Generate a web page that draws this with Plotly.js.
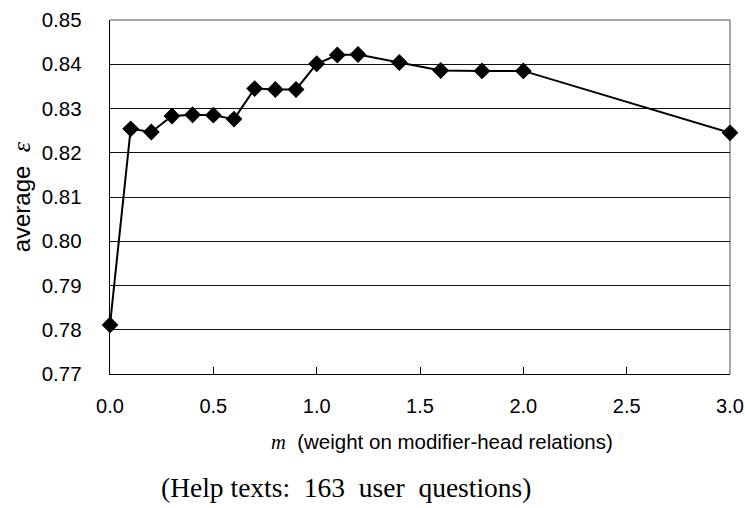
<!DOCTYPE html>
<html>
<head>
<meta charset="utf-8">
<script src="https://cdn.plot.ly/plotly-3.0.1.min.js"></script>
<style>html,body{margin:0;padding:0;background:#fff;}#chart{width:745px;height:508px;}</style>
</head>
<body>
<div id="chart"></div>
<script>
const mValues = [0.0, 0.1, 0.2, 0.3, 0.4, 0.5, 0.6, 0.7, 0.8, 0.9, 1.0, 1.1, 1.2, 1.4, 1.6, 1.8, 2.0, 3.0];
const avgEpsilon = [0.7811, 0.8254, 0.8247, 0.8283, 0.8286, 0.8285, 0.8276, 0.8345, 0.8343, 0.8343, 0.8401, 0.8421, 0.8422, 0.8404, 0.8386, 0.8385, 0.8385, 0.8245];
const xTickVals = [0.0, 0.5, 1.0, 1.5, 2.0, 2.5, 3.0];
const xTickText = ['0.0', '0.5', '1.0', '1.5', '2.0', '2.5', '3.0'];
const yTickVals = [0.77, 0.78, 0.79, 0.80, 0.81, 0.82, 0.83, 0.84, 0.85];
const yTickText = ['0.77', '0.78', '0.79', '0.80', '0.81', '0.82', '0.83', '0.84', '0.85'];
const xTitleText = '<span style="font-family:\'Liberation Serif\'"><i>m</i></span>  (weight on modifier-head relations)';
const yTitleText = 'average  <span style="font-family:\'Liberation Serif\';font-size:26px"><i>ε</i></span>';
const captionText = '(Help texts:  163  user  questions)';

const trace = {
  x: mValues,
  y: avgEpsilon,
  type: 'scatter',
  mode: 'lines+markers',
  line: {color: '#000', width: 2},
  marker: {symbol: 'diamond', size: 13, color: '#000'},
  cliponaxis: false,
  hoverinfo: 'skip',
  showlegend: false
};

const layout = {
  width: 745, height: 508,
  margin: {l: 110, r: 15, t: 20, b: 134},
  paper_bgcolor: '#fff', plot_bgcolor: '#fff',
  font: {family: 'Liberation Sans, Arial, sans-serif', color: '#000'},
  xaxis: {
    range: [0, 3], tickvals: xTickVals, ticktext: xTickText,
    showgrid: false, zeroline: false,
    showline: true, linecolor: '#000', linewidth: 1.3,
    ticks: 'inside', ticklen: 7, tickcolor: '#000', tickwidth: 1,
    tickfont: {size: 20},
    ticklabelstandoff: 14
  },
  yaxis: {
    range: [0.77, 0.85], tickvals: yTickVals, ticktext: yTickText,
    showgrid: true, gridcolor: '#111', gridwidth: 1,
    zeroline: false,
    showline: true, linecolor: '#000', linewidth: 1.3,
    ticks: '', tickfont: {size: 20.5},
    ticklabelstandoff: 23
  },
  shapes: [
    {type: 'line', xref: 'paper', yref: 'paper', x0: 0, x1: 1, y0: 1, y1: 1, line: {color: '#888', width: 1.5}, layer: 'below'},
    {type: 'line', xref: 'paper', yref: 'paper', x0: 1, x1: 1, y0: 0, y1: 1, line: {color: '#888', width: 1.5}, layer: 'below'}
  ],
  annotations: [
    {text: xTitleText, xref: 'paper', yref: 'paper', x: 0.535, y: -0.19, xanchor: 'center', yanchor: 'middle', showarrow: false, font: {size: 20.5}},
    {text: yTitleText, xref: 'paper', yref: 'paper', x: -0.143, y: 0.5, xanchor: 'center', yanchor: 'middle', textangle: -90, showarrow: false, font: {size: 24}},
    {text: captionText, xref: 'paper', yref: 'paper', x: 0.38, y: -0.32, xanchor: 'center', yanchor: 'middle', showarrow: false, font: {size: 27.5, family: 'Liberation Serif, Times New Roman, serif'}}
  ]
};

Plotly.newPlot('chart', [trace], layout, {displayModeBar: false, staticPlot: true});
</script>
</body>
</html>
